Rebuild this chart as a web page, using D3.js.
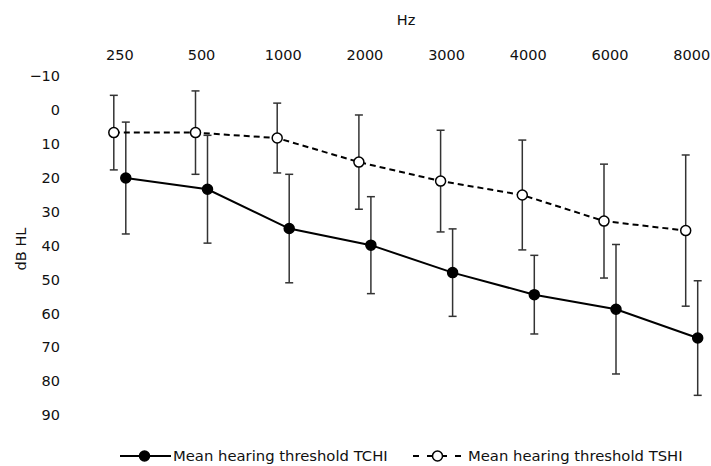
<!DOCTYPE html>
<html>
<head>
<meta charset="utf-8">
<script src="https://cdn.jsdelivr.net/npm/d3@7/dist/d3.min.js"></script>
<style>
  html, body { margin: 0; padding: 0; background: #fff; }
  svg { display: block; }
  text { font-family: "DejaVu Sans", Verdana, sans-serif; fill: #111; }
</style>
</head>
<body>
<svg id="chart" width="711" height="466"></svg>
<script>
const frequencies = ["250", "500", "1000", "2000", "3000", "4000", "6000", "8000"];
const yTicks = [-10, 0, 10, 20, 30, 40, 50, 60, 70, 80, 90];
const tchiMean = [20.1, 23.4, 35.0, 39.9, 48.0, 54.5, 58.8, 67.3];
const tchiSD   = [16.5, 15.9, 16.0, 14.3, 12.9, 11.6, 19.1, 16.9];
const tshiMean = [6.7, 6.7, 8.3, 15.4, 21.0, 25.1, 32.8, 35.6];
const tshiSD   = [11.0, 12.3, 10.3, 13.9, 15.0, 16.2, 16.8, 22.3];
const seriesNames = ["Mean hearing threshold TCHI", "Mean hearing threshold TSHI"];

const svg = d3.select("#chart");
const x = d3.scalePoint().domain(frequencies).range([119.8, 691.7]);
const y = d3.scaleLinear().domain([-10, 90]).range([76, 415]);
const fs = 14.5;
const lfs = 14.8;

const series = [
  { name: seriesNames[0], mean: tchiMean, sd: tchiSD, off: 6, fill: "#000", dash: null },
  { name: seriesNames[1], mean: tshiMean, sd: tshiSD, off: -6, fill: "#fff", dash: "6,4" }
];

// top axis labels
svg.append("text").attr("x", 406).attr("y", 25).attr("text-anchor", "middle")
  .attr("font-size", fs).text("Hz");
svg.selectAll(".xt").data(frequencies).join("text")
  .attr("x", d => x(d)).attr("y", 60).attr("text-anchor", "middle")
  .attr("font-size", fs).text(d => d);

// left axis labels
svg.selectAll(".yt").data(yTicks).join("text")
  .attr("x", 60).attr("y", d => y(d)).attr("dy", "0.36em").attr("text-anchor", "end")
  .attr("font-size", fs).text(d => d < 0 ? "\u2212" + Math.abs(d) : d);
svg.append("text").attr("transform", "translate(26,249) rotate(-90)")
  .attr("text-anchor", "middle").attr("font-size", fs).text("dB HL");

const g = svg.append("g");
// error bars
series.forEach(s => {
  const eb = g.append("g").attr("stroke", "#333").attr("stroke-width", 1.5);
  frequencies.forEach((f, i) => {
    const cx = x(f) + s.off;
    const lo = y(s.mean[i] - s.sd[i]), hi = y(s.mean[i] + s.sd[i]);
    eb.append("line").attr("x1", cx).attr("x2", cx).attr("y1", lo).attr("y2", hi);
    eb.append("line").attr("x1", cx - 4).attr("x2", cx + 4).attr("y1", lo).attr("y2", lo);
    eb.append("line").attr("x1", cx - 4).attr("x2", cx + 4).attr("y1", hi).attr("y2", hi);
  });
});
// lines
series.forEach(s => {
  const line = d3.line().x((d, i) => x(frequencies[i]) + s.off).y(d => y(d));
  g.append("path").datum(s.mean).attr("d", line).attr("fill", "none")
    .attr("stroke", "#000").attr("stroke-width", 2)
    .attr("stroke-dasharray", s.dash);
});
// points
series.forEach(s => {
  g.selectAll(null).data(s.mean).join("circle")
    .attr("cx", (d, i) => x(frequencies[i]) + s.off).attr("cy", d => y(d))
    .attr("r", 5).attr("fill", s.fill).attr("stroke", "#000").attr("stroke-width", 1.5);
});

// legend
const legendItems = [
  { s: series[0], x0: 120, len: 51, text: 173 },
  { s: series[1], x0: 413, len: 51, text: 468 }
];
const ly = 456;
legendItems.forEach(it => {
  const lg = svg.append("g");
  lg.append("line").attr("x1", it.x0).attr("x2", it.x0 + it.len).attr("y1", ly).attr("y2", ly)
    .attr("stroke", "#000").attr("stroke-width", 2).attr("stroke-dasharray", it.s.dash ? "6,8" : null);
  lg.append("circle").attr("cx", it.x0 + it.len / 2 - 1).attr("cy", ly).attr("r", 5)
    .attr("fill", it.s.fill).attr("stroke", "#000").attr("stroke-width", 1.5);
  lg.append("text").attr("x", it.text).attr("y", ly).attr("dy", "0.36em")
    .attr("font-size", lfs).text(it.s.name);
});
</script>
</body>
</html>
